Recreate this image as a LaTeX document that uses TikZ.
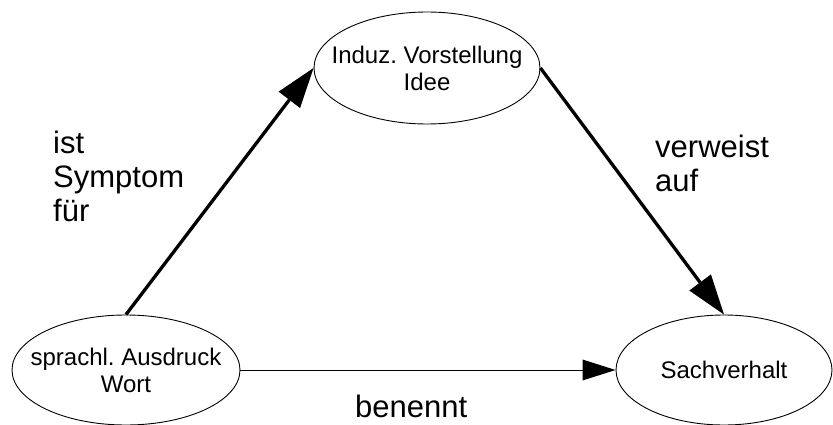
\documentclass[tikz,border=0pt]{standalone}
\usepackage{fontspec}
\setmainfont{Liberation Sans}
\usetikzlibrary{shapes.geometric,arrows.meta}
\frenchspacing
\begin{document}
\begin{tikzpicture}[x=1pt,y=-1pt,
  concept/.style={draw=black,line width=0.9pt,ellipse,inner xsep=-20pt,inner ysep=0pt,
    align=center,font=\fontsize{24}{27}\selectfont},
  relation/.style={inner sep=0pt,align=left,anchor=base west,
    font=\fontsize{31}{34.5}\selectfont},
  strong/.style={line width=3.3pt,-{Triangle[length=40pt,width=27pt,line width=0pt]}},
  weak/.style={line width=1pt,-{Triangle[length=33pt,width=21pt,line width=0pt]}}]
\useasboundingbox (0,0) rectangle (833,425);

% the three corners of the triangle
\node[concept,minimum width=226pt,minimum height=112pt] (idee) at (427,68)
  {Induz. Vorstellung\\Idee};
\node[concept,minimum width=228pt,minimum height=110pt] (wort) at (126,370)
  {sprachl. Ausdruck\\Wort};
\node[concept,minimum width=216pt,minimum height=110pt] (sache) at (724,370)
  {Sachverhalt};

% relations between them
\draw[strong] (wort.north) -- (idee.west);
\draw[strong] (idee.east) -- (sache.north);
\draw[weak] (wort.east) -- (sache.west);

% relation labels (anchored at the baseline of their last line)
\node[relation] (symptom) at (53,222) {ist\\Symptom\\für};
\node[relation] (verweist) at (655,192) {verweist\\auf};
\node[relation] (benennt) at (355,417) {benennt};
\end{tikzpicture}
\end{document}
